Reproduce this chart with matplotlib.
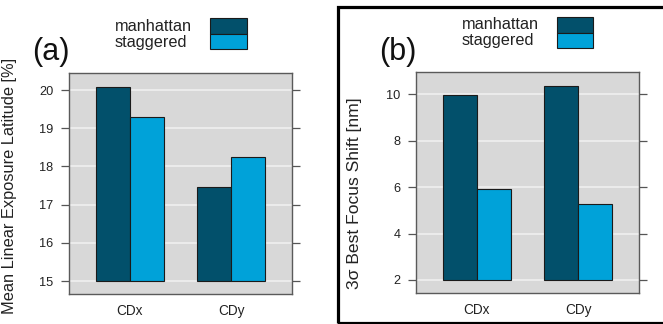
import matplotlib
matplotlib.use("Agg")
import matplotlib.pyplot as plt
from matplotlib.patches import Rectangle
import numpy as np

plt.rcParams['font.family'] = ['Liberation Sans', 'DejaVu Sans']

categories = ["CDx", "CDy"]
series_names = ["manhattan", "staggered"]
lat_manhattan = [20.08, 17.46]
lat_staggered = [19.29, 18.24]
bfs_manhattan = [9.96, 10.36]
bfs_staggered = [5.90, 5.28]

yticks_a = [15, 16, 17, 18, 19, 20]
yticks_b = [2, 4, 6, 8, 10]

c_man = "#02506b"
c_stag = "#00a2d9"
bg = "#d8d8d8"

W, H = 663, 324
fig = plt.figure(figsize=(W / 100, H / 100), dpi=100)
renderer = fig.canvas.get_renderer()


def fit_size(txt, target_px, base=10.0):
    t = fig.text(0, 0, txt, fontsize=base)
    bb = t.get_window_extent(renderer=renderer)
    t.remove()
    return base * target_px / bb.width


def px_axes(l, t, r, b):
    return fig.add_axes([l / W, 1 - b / H, (r - l) / W, (b - t) / H])


tick_fs = fit_size("CDx", 26.5)
ytick_fs = fit_size("20", 14.3)


def draw_panel(ax, man, stag, base, ylim, yticks, ylabel, ylabel_fs):
    x = np.arange(1, len(categories) + 1)
    w = 0.336
    ax.set_facecolor(bg)
    for yt in yticks:
        ax.axhline(yt, color="#f2f2f2", lw=1.1, zorder=1)
    ax.bar(x - w / 2, np.array(man) - base, w, bottom=base, color=c_man,
           edgecolor="#1a1a1a", lw=0.8, zorder=3)
    ax.bar(x + w / 2, np.array(stag) - base, w, bottom=base, color=c_stag,
           edgecolor="#1a1a1a", lw=0.8, zorder=3)
    ax.set_xlim(0.4, 2.6)
    ax.set_ylim(*ylim)
    ax.set_xticks(x)
    ax.set_xticklabels(categories, fontsize=tick_fs, color="#222222")
    ax.set_yticks(yticks)
    ax.set_yticklabels([str(v) for v in yticks], fontsize=ytick_fs, color="#222222")
    ax.tick_params(axis="x", length=0, pad=7)
    ax.tick_params(axis="y", which="both", direction="out", length=5.8,
                   width=0.9, color="#555555", pad=5.5, left=True, right=True,
                   labelleft=True, labelright=False)
    for s in ax.spines.values():
        s.set_color("#5a5a5a")
        s.set_linewidth(1.0)
    ax.set_ylabel(ylabel, fontsize=ylabel_fs, color="#222222")


label_a = "Mean Linear Exposure Latitude [%]"
label_b = "3σ Best Focus Shift [nm]"

# Panel (a)
ax_a = px_axes(69, 73, 292, 294)
draw_panel(ax_a, lat_manhattan, lat_staggered, 15, (14.66, 20.445),
           yticks_a, label_a, fit_size(label_a, 256))
ax_a.yaxis.set_label_coords((17 - 69) / 223, (294 - 186) / 221)

# Panel (b)
ax_b = px_axes(416, 72, 639, 293)
draw_panel(ax_b, bfs_manhattan, bfs_staggered, 2, (1.44, 10.95),
           yticks_b, label_b, fit_size(label_b, 192))
ax_b.yaxis.set_label_coords((361.5 - 416) / 223, (293 - 193) / 221)


def fx(px):
    return px / W


def fy(py):
    return 1 - py / H


# panel letters
fig.text(fx(51), fy(52), "(a)", fontsize=22, ha="center", va="center", color="#111111")
fig.text(fx(397.5), fy(52), "(b)", fontsize=22, ha="center", va="center", color="#111111")

leg_fs = fit_size("manhattan", 77)


def legend(xt, y1, y2, rx0, rx1, ry0, rym, ry1):
    fig.text(fx(xt), fy(y1), series_names[0], fontsize=leg_fs, ha="left", va="center", color="#222222")
    fig.text(fx(xt), fy(y2), series_names[1], fontsize=leg_fs, ha="left", va="center", color="#222222")
    fig.add_artist(Rectangle((fx(rx0), fy(rym)), (rx1 - rx0) / W, (rym - ry0) / H,
                             transform=fig.transFigure, facecolor=c_man,
                             edgecolor="#1a1a1a", lw=0.8))
    fig.add_artist(Rectangle((fx(rx0), fy(ry1)), (rx1 - rx0) / W, (ry1 - rym) / H,
                             transform=fig.transFigure, facecolor=c_stag,
                             edgecolor="#1a1a1a", lw=0.8))


legend(115, 26.5, 42, 210, 246.5, 18.3, 34, 49.3)
legend(461.5, 24.5, 40, 556.7, 593.3, 16.7, 32.7, 48.3)

# frame around panel (b)
fig.add_artist(Rectangle((fx(338), fy(322.5)), (670 - 338) / W, (322.5 - 6.5) / H,
                         transform=fig.transFigure, fill=False,
                         edgecolor="black", lw=2.3, clip_on=False))

fig.savefig("out.png", dpi=100)
